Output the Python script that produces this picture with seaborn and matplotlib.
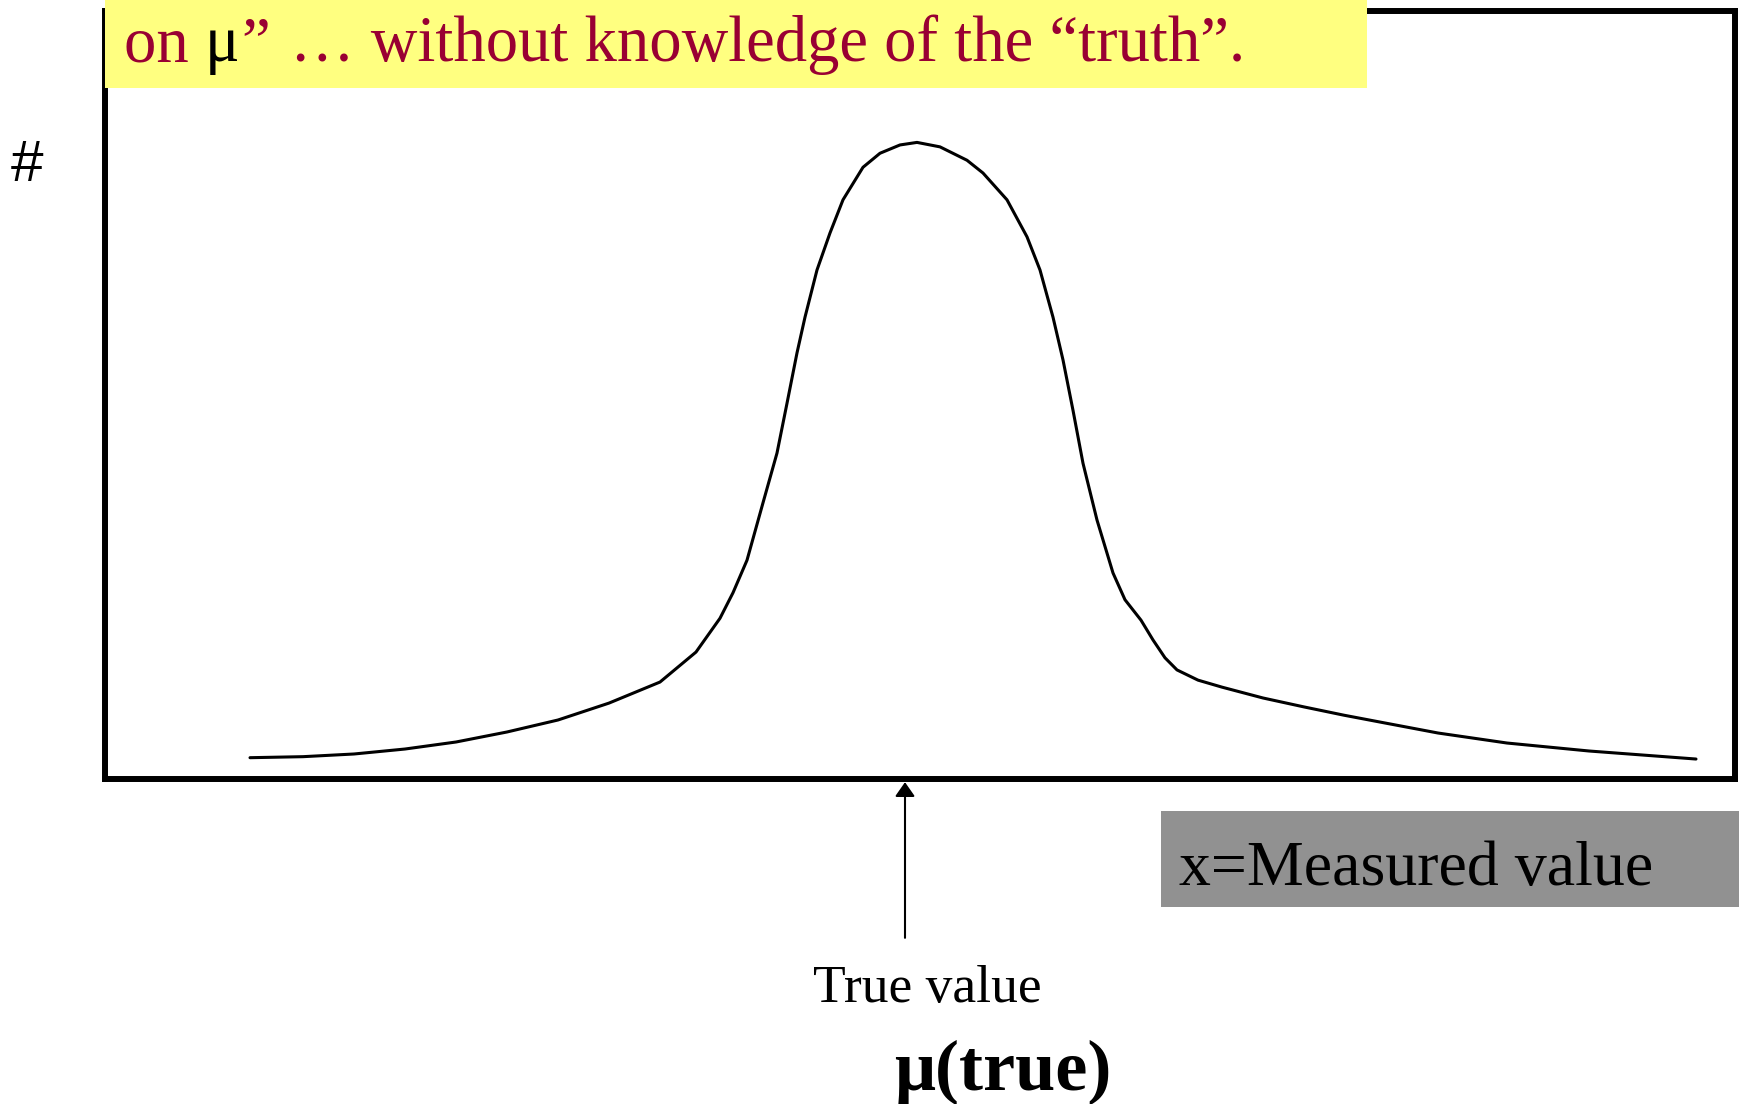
import numpy as np
import pandas as pd
import matplotlib
matplotlib.use("Agg")
import matplotlib.pyplot as plt
import seaborn as sns
from matplotlib.patches import Rectangle

# ---- data ----
measured_x = [-6.55, -6.02, -5.51, -5.00, -4.49, -3.98, -3.47, -2.96, -2.45, -2.09,
              -1.85, -1.72, -1.58, -1.42, -1.28, -1.18, -1.08, -1.00, -0.88, -0.75,
              -0.62, -0.42, -0.25, -0.05, 0.12, 0.35, 0.62, 0.78, 1.02, 1.22,
              1.35, 1.48, 1.58, 1.68, 1.78, 1.92, 2.08, 2.20, 2.36, 2.48,
              2.60, 2.72, 2.93, 3.17, 3.58, 3.99, 4.39, 4.80, 5.33, 6.02,
              6.84, 7.91]
counts = [3.34, 3.50, 3.92, 4.70, 5.80, 7.37, 9.25, 11.9, 15.2, 19.9,
          25.2, 29.2, 34.3, 43.3, 51.1, 58.9, 66.8, 72.4, 79.8, 85.6,
          90.8, 95.9, 98.1, 99.4, 99.8, 99.1, 97.0, 95.0, 90.8, 85.0,
          79.8, 72.4, 65.7, 57.8, 49.5, 40.6, 32.3, 28.1, 24.9, 21.8,
          19.0, 17.1, 15.5, 14.4, 12.7, 11.3, 10.0, 8.78, 7.21, 5.64,
          4.39, 3.13]
true_value = 0.0

title_parts = ["on ", "\u03bc", "\u201d", "\u2026 without knowledge of the \u201ctruth\u201d."]
ylabel_text = "#"
xlabel_text = "x=Measured value"
arrow_label = "True value"
mu_label = "\u03bc(true)"

df = pd.DataFrame({"x": measured_x, "count": counts})

W, H = 1739, 1104
sns.set_theme(style="white")
plt.rcParams['font.family'] = ['Liberation Serif', 'DejaVu Serif']

fig = plt.figure(figsize=(W / 100, H / 100), dpi=100)
fig.patch.set_facecolor("white")

def fx(px):
    return px / W

def fy(py):
    return 1 - py / H

left, right, top, bottom = 105, 1735, 11, 779
ax = fig.add_axes([fx(left), fy(bottom), fx(right) - fx(left), fy(top) - fy(bottom)])
ax.set_facecolor("white")

sns.lineplot(data=df, x="x", y="count", ax=ax, color="black", linewidth=2.2,
             estimator=None, sort=False)

ax.set_xlim(-8.0, 8.30)
ax.set_ylim(0, 120.4)
ax.set_xticks([])
ax.set_yticks([])
ax.set_xlabel("")
ax.set_ylabel("")
for s in ax.spines.values():
    s.set_visible(True)
    s.set_color("black")
    s.set_linewidth(4.3)

# arrow pointing at the true value
ax.annotate("", xy=(true_value, -0.5), xytext=(true_value, -24.9),
            xycoords="data", textcoords="data", annotation_clip=False,
            arrowprops=dict(arrowstyle="-|>,head_length=0.43,head_width=0.3",
                            mutation_scale=20, lw=1.5, color="black",
                            shrinkA=0, shrinkB=0))

# yellow title band
fig.add_artist(Rectangle((fx(105), fy(88)), fx(1367) - fx(105), 88 / H,
                         transform=fig.transFigure, facecolor="#FFFF80",
                         edgecolor="none", zorder=5))
crimson = "#990033"
tx = [124, 205, 241, 290]
tcol = [crimson, "black", crimson, crimson]
for t, x0, c in zip(title_parts, tx, tcol):
    fig.text(fx(x0), fy(61), t, color=c, fontsize=46.5, ha="left", va="baseline",
             zorder=6)

# grey x label band
fig.add_artist(Rectangle((fx(1161), fy(907)), 1 - fx(1161), 96 / H,
                         transform=fig.transFigure, facecolor="#919191",
                         edgecolor="none", zorder=5))
fig.text(fx(1179), fy(885), xlabel_text, color="black", fontsize=46,
         ha="left", va="baseline", zorder=6)

# y label
fig.text(fx(11), fy(181), ylabel_text, color="black", fontsize=42,
         family=["Liberation Sans", "DejaVu Sans"], ha="left", va="baseline")

fig.text(fx(813), fy(1002), arrow_label, color="black", fontsize=38.5,
         ha="left", va="baseline")
fig.text(fx(894), fy(1090), mu_label, color="black", fontsize=52,
         fontweight="bold", ha="left", va="baseline")

fig.savefig("out.png", dpi=100, facecolor="white")
